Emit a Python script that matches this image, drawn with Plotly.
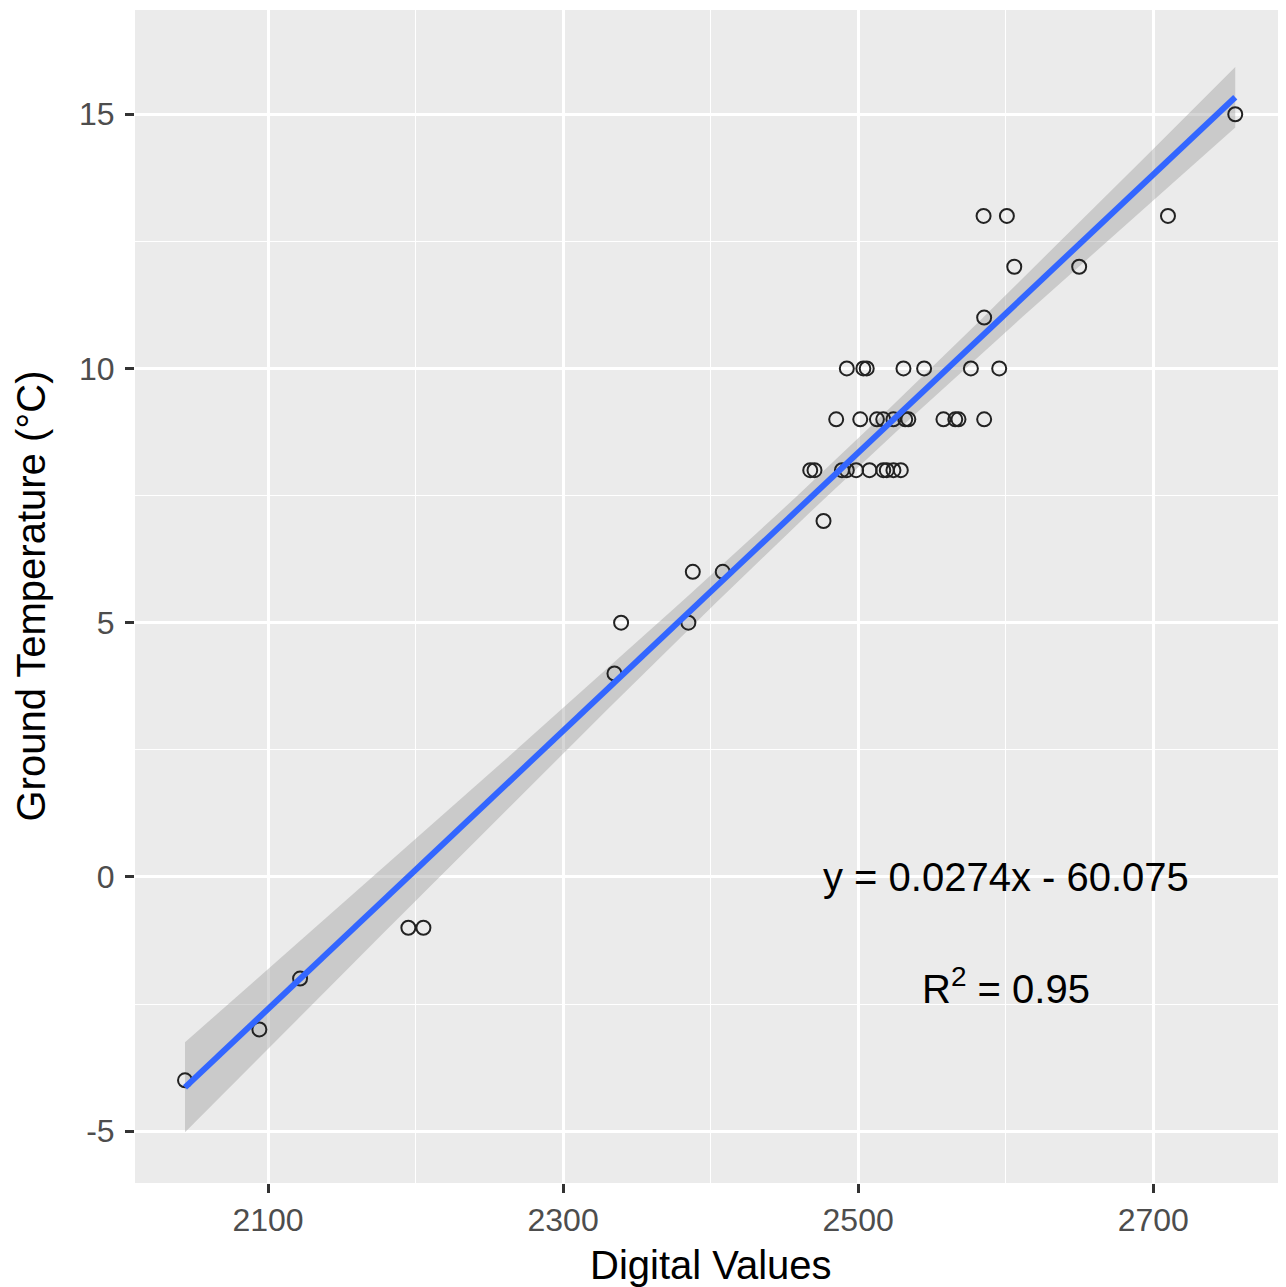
import numpy as np
import plotly.graph_objects as go

# Digital values (x) and ground temperature (y)
digital_values = [
    2755.6,
    2585.0, 2600.8, 2710.0,
    2605.8, 2649.8,
    2585.4,
    2492.3, 2503.5, 2505.8, 2530.7, 2544.7, 2576.4, 2595.6,
    2485.1, 2501.4, 2512.7, 2517.0, 2523.9, 2531.9, 2534.0, 2557.8, 2565.8, 2568.0, 2585.4,
    2467.5, 2470.4, 2489.0, 2492.3, 2498.6, 2507.7, 2517.0, 2519.4, 2523.9, 2528.9,
    2476.5,
    2387.9, 2408.2,
    2339.3, 2384.9,
    2334.8,
    2195.1, 2205.3,
    2121.7,
    2094.1,
    2043.7,
]
ground_temp = [
    15,
    13, 13, 13,
    12, 12,
    11,
    10, 10, 10, 10, 10, 10, 10,
    9, 9, 9, 9, 9, 9, 9, 9, 9, 9, 9,
    8, 8, 8, 8, 8, 8, 8, 8, 8, 8,
    7,
    6, 6,
    5, 5,
    4,
    -1, -1,
    -2,
    -3,
    -4,
]
x_ticks = [2100, 2300, 2500, 2700]
x_tick_labels = ["2100", "2300", "2500", "2700"]
y_ticks = [-5, 0, 5, 10, 15]
y_tick_labels = ["-5", "0", "5", "10", "15"]
eq_text = "y = 0.0274x - 60.075"
r2_text = "R<sup>2</sup> = 0.95"

# linear model fit + 95% confidence band (like geom_smooth(method="lm"))
x = np.array(digital_values, dtype=float)
y = np.array(ground_temp, dtype=float)
n = len(x)
b1, b0 = np.polyfit(x, y, 1)
resid = y - (b0 + b1 * x)
s = np.sqrt(np.sum(resid ** 2) / (n - 2))
xbar = x.mean()
sxx = np.sum((x - xbar) ** 2)
tq = 2.0154
xs = np.linspace(x.min(), x.max(), 80)
ys = b0 + b1 * xs
se = s * np.sqrt(1.0 / n + (xs - xbar) ** 2 / sxx)
upper = ys + tq * se
lower = ys - tq * se

FONT = "Liberation Sans, Arial, sans-serif"

fig = go.Figure()
fig.add_trace(go.Scatter(
    x=np.concatenate([xs, xs[::-1]]), y=np.concatenate([upper, lower[::-1]]),
    fill="toself", fillcolor="rgba(153,153,153,0.4)", line=dict(width=0),
    hoverinfo="skip", showlegend=False, mode="lines"))
fig.add_trace(go.Scatter(
    x=x, y=y, mode="markers",
    marker=dict(symbol="circle-open", size=14, color="#222222", line=dict(width=2)),
    showlegend=False))
fig.add_trace(go.Scatter(
    x=xs, y=ys, mode="lines", line=dict(color="#3366FF", width=6), showlegend=False))

minor_x = [2200, 2400, 2600]
minor_y = [-2.5, 2.5, 7.5, 12.5]

fig.update_layout(
    width=1278, height=1279,
    margin=dict(l=127, r=0, t=2, b=104),
    paper_bgcolor="white", plot_bgcolor="#EBEBEB",
    font=dict(family=FONT),
    xaxis=dict(range=[2009.8, 2790], tickvals=x_ticks, ticktext=x_tick_labels, showgrid=True,
               gridcolor="white", gridwidth=2.6, zeroline=False,
               ticks="outside", ticklen=9, tickwidth=2.5, tickcolor="#333333",
               tickfont=dict(size=32, color="#4D4D4D", family=FONT),
               minor=dict(tickvals=minor_x, showgrid=True, gridcolor="white", gridwidth=1.3, ticks=""),
               showline=False),
    yaxis=dict(range=[-6.02, 17.05], tickvals=y_ticks, ticktext=y_tick_labels, showgrid=True,
               gridcolor="white", gridwidth=2.6, zeroline=False,
               ticks="outside", ticklen=9, tickwidth=2.5, tickcolor="#333333",
               tickfont=dict(size=32, color="#4D4D4D", family=FONT),
               minor=dict(tickvals=minor_y, showgrid=True, gridcolor="white", gridwidth=1.3, ticks=""),
               ticklabelstandoff=4,
               showline=False),
    annotations=[
        dict(text="Digital Values", x=0.5, y=-0.0699, xref="paper", yref="paper",
             xanchor="center", yanchor="middle", showarrow=False,
             font=dict(size=40, color="black", family=FONT)),
        dict(text="Ground Temperature (°C)", x=-0.0912, y=0.5, xref="paper", yref="paper",
             xanchor="center", yanchor="middle", textangle=-90, showarrow=False,
             font=dict(size=40, color="black", family=FONT)),
        dict(text=eq_text, x=2600, y=0, xref="x", yref="y",
             xanchor="center", yanchor="middle", showarrow=False,
             font=dict(size=40, color="black", family=FONT)),
        dict(text=r2_text, x=2600, y=-2.15, xref="x", yref="y",
             xanchor="center", yanchor="middle", showarrow=False,
             font=dict(size=40, color="black", family=FONT)),
    ],
)

fig.write_html("out.html")
